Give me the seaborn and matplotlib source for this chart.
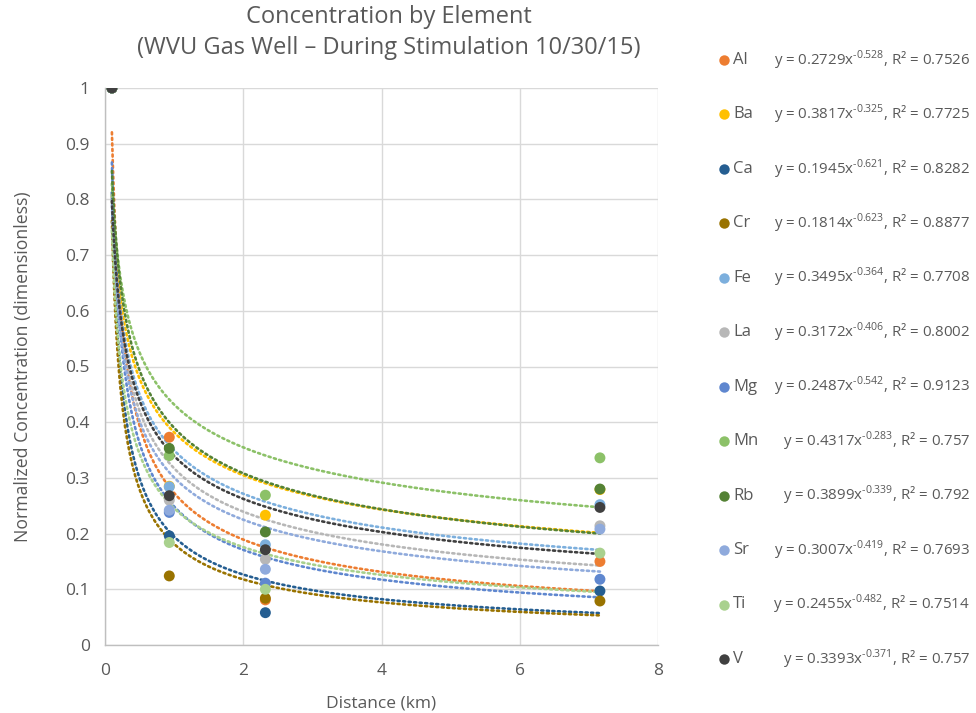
import numpy as np
import pandas as pd
import matplotlib
matplotlib.use("Agg")
import matplotlib.pyplot as plt
from matplotlib.lines import Line2D
from matplotlib.ticker import FuncFormatter
import seaborn as sns

# ---- data -------------------------------------------------------------
elements = ["Al", "Ba", "Ca", "Cr", "Fe", "La", "Mg", "Mn", "Rb", "Sr", "Ti", "V"]
distance_km = [0.1, 0.93, 2.32, 7.16]

conc_Al = [1.0, 0.373, 0.081, 0.150]
conc_Ba = [1.0, 0.285, 0.233, 0.279]
conc_Ca = [1.0, 0.196, 0.058, 0.097]
conc_Cr = [1.0, 0.124, 0.084, 0.079]
conc_Fe = [1.0, 0.284, 0.180, 0.252]
conc_La = [1.0, 0.260, 0.154, 0.214]
conc_Mg = [1.0, 0.238, 0.111, 0.118]
conc_Mn = [1.0, 0.340, 0.269, 0.336]
conc_Rb = [1.0, 0.353, 0.203, 0.280]
conc_Sr = [1.0, 0.242, 0.136, 0.208]
conc_Ti = [1.0, 0.184, 0.100, 0.165]
conc_V = [1.0, 0.268, 0.171, 0.247]

# power-law trendline coefficients y = a * x^b and R^2
fit_a = [0.2729, 0.3817, 0.1945, 0.1814, 0.3495, 0.3172, 0.2487, 0.4317, 0.3899, 0.3007, 0.2455, 0.3393]
fit_b = [-0.528, -0.325, -0.621, -0.623, -0.364, -0.406, -0.542, -0.283, -0.339, -0.419, -0.482, -0.371]
fit_r2 = ["0.7526", "0.7725", "0.8282", "0.8877", "0.7708", "0.8002",
          "0.9123", "0.757", "0.792", "0.7693", "0.7514", "0.757"]

colors = ["#ED7D31", "#FFC000", "#255E91", "#997300", "#7CAFDD", "#B7B7B7",
          "#5F87CF", "#8CC168", "#548235", "#8FAADC", "#A9D18E", "#404040"]

# ---- long-format table --------------------------------------------------
series = [conc_Al, conc_Ba, conc_Ca, conc_Cr, conc_Fe, conc_La,
          conc_Mg, conc_Mn, conc_Rb, conc_Sr, conc_Ti, conc_V]
rows = []
for el, vals in zip(elements, series):
    for d, v in zip(distance_km, vals):
        rows.append({"Element": el, "Distance": d, "Concentration": v})
df = pd.DataFrame(rows)

# ---- figure -------------------------------------------------------------
sns.set_theme(style="white")
plt.rcParams["font.family"] = ["Open Sans", "DejaVu Sans"]
plt.rcParams["mathtext.fontset"] = "custom"
plt.rcParams["mathtext.rm"] = "Open Sans"

W, H = 976, 713
fig = plt.figure(figsize=(W / 100, H / 100), dpi=100)
px_l, px_r, px_t, px_b = 105, 658, 88, 645
ax = fig.add_axes([px_l / W, 1 - px_b / H, (px_r - px_l) / W, (px_b - px_t) / H])

text_col = "#595959"
grid_col = "#D9D9D9"

# trendlines
xfit = np.linspace(distance_km[0], distance_km[-1], 400)
for a, b, c in zip(fit_a, fit_b, colors):
    ax.plot(xfit, a * xfit ** b, color=c, lw=1.9, linestyle=(0, (0.8, 1.3)),
            dash_capstyle="round", zorder=2)

# data points
sns.scatterplot(data=df, x="Distance", y="Concentration", hue="Element",
                hue_order=elements, palette=colors, s=62, edgecolor="none",
                legend=False, ax=ax, zorder=3)

ax.set_xlim(0, 8)
ax.set_ylim(0, 1)
ax.set_xticks([0, 2, 4, 6, 8])
ax.set_yticks(np.round(np.arange(0, 1.01, 0.1), 1))
ax.yaxis.set_major_formatter(FuncFormatter(lambda v, p: f"{v:g}"))
ax.grid(True, color=grid_col, lw=1.0)
ax.set_axisbelow(True)
for s in ["top", "right"]:
    ax.spines[s].set_visible(False)
for s in ["left", "bottom"]:
    ax.spines[s].set_color("#BFBFBF")
    ax.spines[s].set_linewidth(1.0)
ax.tick_params(axis="both", length=0, labelsize=12.5, labelcolor=text_col)
ax.tick_params(axis="x", pad=13)
ax.tick_params(axis="y", pad=11)

ax.set_xlabel("Distance (km)", fontsize=12.5, color=text_col, labelpad=12)
ax.set_ylabel("Normalized Concentration (dimensionless)", fontsize=12.7,
              color=text_col, labelpad=24)

fig.text(389 / W, 1 - 17 / H, "Concentration by Element", ha="center", va="center",
         fontsize=17, color=text_col)
fig.text(389 / W, 1 - 48 / H, "(WVU Gas Well \u2013 During Stimulation 10/30/15)",
         ha="center", va="center", fontsize=17, color=text_col)

# legend with trendline equations
y0, dy = 60, 54.45
for i, (el, c, a, b, r2) in enumerate(zip(elements, colors, fit_a, fit_b, fit_r2)):
    yy = 1 - (y0 + i * dy) / H
    fig.add_artist(Line2D([724 / W], [yy], marker="o", markersize=7.5, color=c,
                          markeredgewidth=0, transform=fig.transFigure))
    fig.text(733 / W, yy, el, ha="left", va="center", fontsize=12, color=text_col)
    exp_txt = "\u2010" + f"{abs(b):.3f}"
    eq = f"y = {a:.4f}x$^{{{exp_txt}}}$, R\u00b2 = {r2}"
    fig.text(970 / W, yy, eq, ha="right", va="center", fontsize=10.8, color=text_col)

fig.savefig("out.png", dpi=100, facecolor="white")
